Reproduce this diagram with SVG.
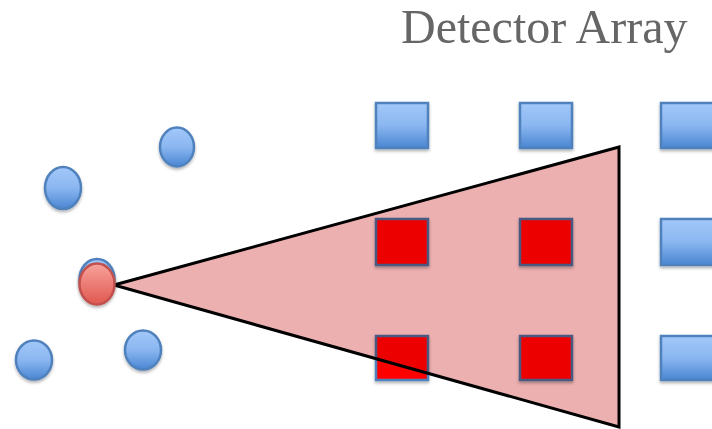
<svg xmlns="http://www.w3.org/2000/svg" width="712" height="429" viewBox="0 0 712 429">
  <defs>
    <linearGradient id="blueGrad" x1="0" y1="0" x2="0" y2="1">
      <stop offset="0" stop-color="#A3C8FA"/>
      <stop offset="0.5" stop-color="#8AB6F0"/>
      <stop offset="1" stop-color="#4A86D2"/>
    </linearGradient>
    <linearGradient id="redGrad" x1="0" y1="0" x2="0" y2="1">
      <stop offset="0" stop-color="#F8A29C"/>
      <stop offset="1" stop-color="#E0584F"/>
    </linearGradient>
    <filter id="shadow" x="-20%" y="-20%" width="150%" height="150%">
      <feDropShadow dx="0" dy="2" stdDeviation="1.5" flood-color="#000" flood-opacity="0.3"/>
    </filter>
    <style>
      .blue { fill: url(#blueGrad); stroke: #4F81BD; stroke-width: 2.5; filter: url(#shadow); }
      .det { fill: url(#blueGrad); stroke: #4F81BD; stroke-width: 2.5; filter: url(#shadow); }
      .hit { fill: #FF0000; stroke: #4F81BD; stroke-width: 2.5; filter: url(#shadow); }
      .src { fill: url(#redGrad); stroke: #C0504D; stroke-width: 2.5; filter: url(#shadow); }
      .cone { fill: #EDB0B0; mix-blend-mode: multiply; stroke: #000; stroke-width: 3; stroke-linejoin: miter; }
      .title { font-family: "Liberation Serif", "Times New Roman", serif; font-size: 48px; fill: #666666; }
    </style>
  </defs>
  <rect width="712" height="429" fill="#FFFFFF"/>

  <text class="title" x="401" y="43">Detector Array</text>

  <g id="particles">
    <ellipse id="p1" class="blue" cx="177" cy="147" rx="17" ry="19.5"/>
    <ellipse id="p2" class="blue" cx="63" cy="188" rx="18" ry="21"/>
    <ellipse id="p3" class="blue" cx="97" cy="279" rx="17.5" ry="20"/>
    <ellipse id="p4" class="blue" cx="34" cy="360" rx="18" ry="19.5"/>
    <ellipse id="p5" class="blue" cx="143" cy="350" rx="18" ry="19.5"/>
  </g>

  <g id="detectors">
    <rect id="d11" class="det" x="376" y="103" width="52" height="45"/>
    <rect id="d12" class="det" x="520" y="103" width="52" height="45"/>
    <rect id="d13" class="det" x="661" y="103" width="54" height="45"/>
    <rect id="d21" class="hit" x="376" y="219" width="52" height="46"/>
    <rect id="d22" class="hit" x="520" y="219" width="52" height="46"/>
    <rect id="d23" class="det" x="661" y="219" width="54" height="46"/>
    <rect id="d31" class="hit" x="376" y="336" width="52" height="44"/>
    <rect id="d32" class="hit" x="520" y="336" width="52" height="44"/>
    <rect id="d33" class="det" x="661" y="336" width="54" height="44"/>
  </g>

  <g id="connectors">
    <polygon id="cone" class="cone" points="114,285 619,147 619,427"/>
  </g>

  <g id="source">
    <ellipse id="src" class="src" cx="97" cy="284" rx="17.5" ry="20.5"/>
  </g>
</svg>
